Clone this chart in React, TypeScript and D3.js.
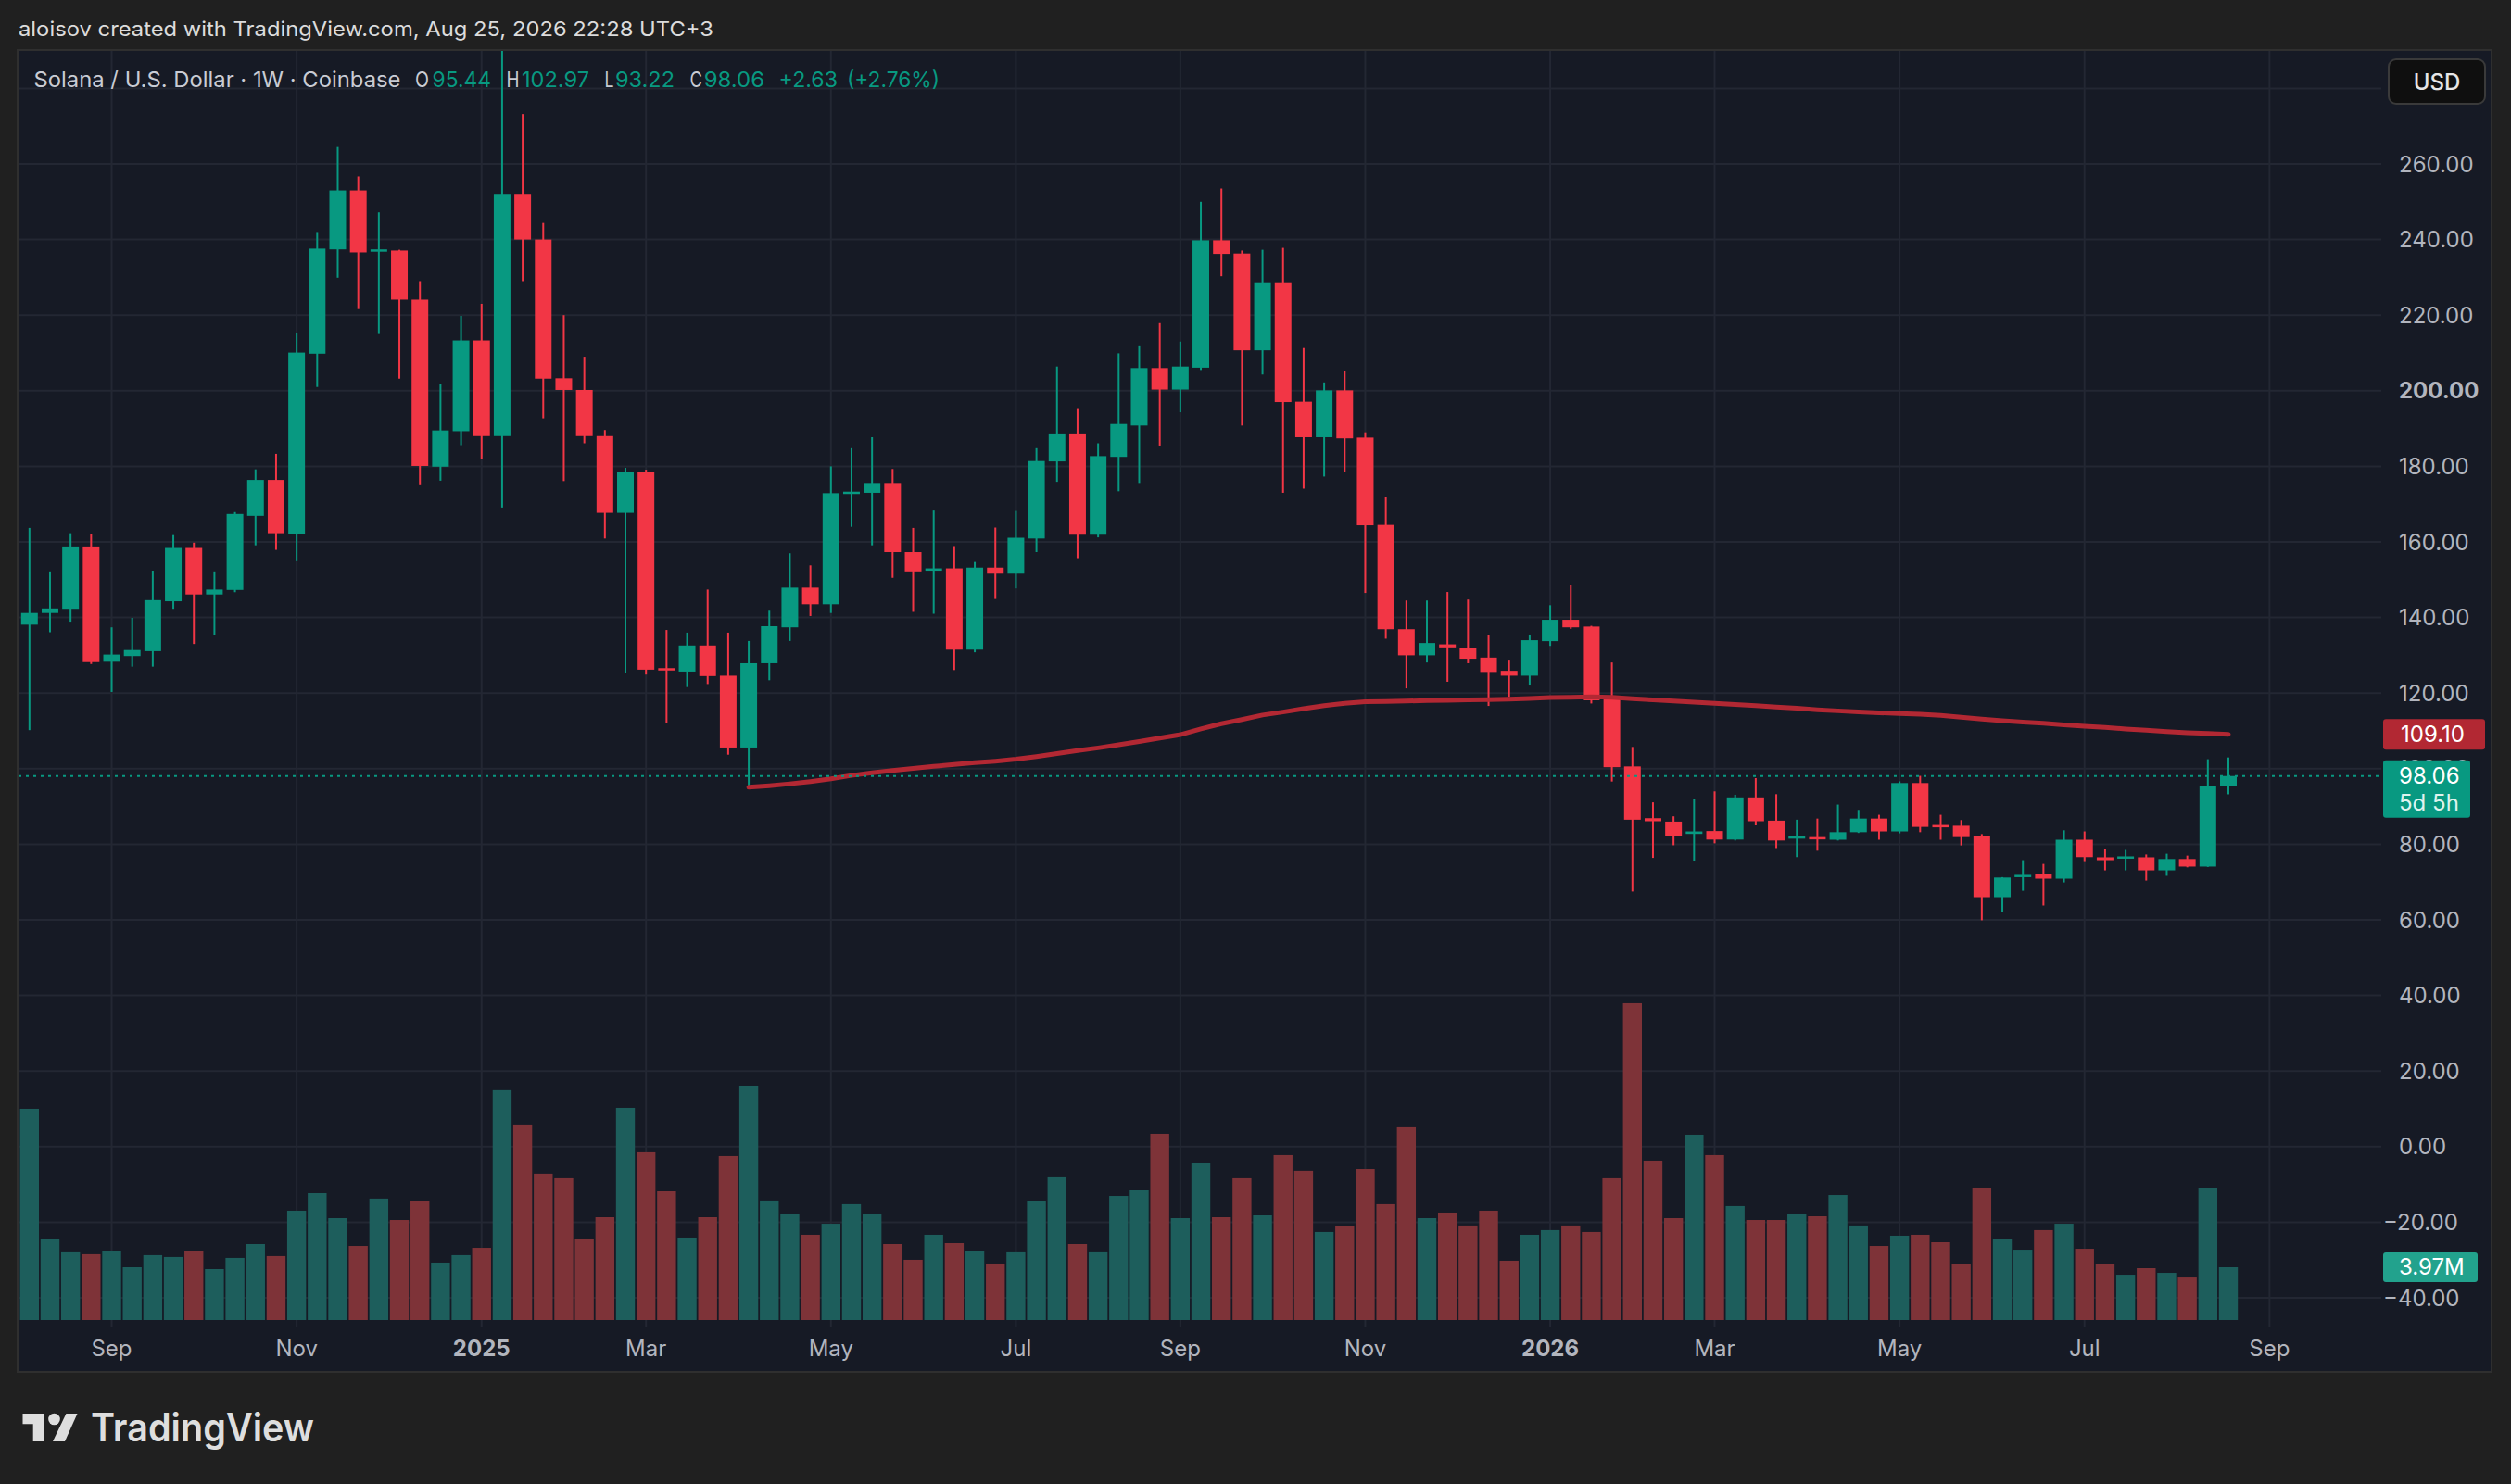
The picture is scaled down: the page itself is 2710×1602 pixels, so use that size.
import React from 'react';
import * as d3 from 'd3';

// ---------- DATA ----------
const firstWeek = new Date(Date.UTC(2024, 7, 5));
const weekCount = 108;
const weeks = d3.range(weekCount).map((i) => d3.utcDay.offset(firstWeek, 7 * i));

const opens = [
  138.1, 141.2, 142.3, 158.8, 128.3, 129.8, 131.1, 144.3, 158.4, 146.1,
  147.3, 166.9, 176.4, 162.0, 209.8, 237.4, 253.0, 236.8, 237.1, 224.1,
  179.9, 189.3, 213.3, 188.0, 252.1, 240.0, 203.3, 200.2, 188.0, 167.7,
  178.4, 126.6, 125.7, 132.6, 124.6, 105.6, 127.9, 137.4, 147.9, 143.5,
  173.0, 173.0, 175.6, 157.3, 152.8, 153.0, 131.5, 153.2, 151.6, 160.9,
  181.3, 188.7, 161.9, 182.5, 190.8, 206.0, 200.3, 206.1, 239.8, 236.3,
  210.7, 228.7, 197.1, 187.7, 200.1, 187.6, 164.5, 136.9, 130.0, 132.9,
  132.0, 129.4, 125.9, 124.6, 133.75, 139.4, 137.6, 118.5, 100.6, 86.9,
  86.0, 82.75, 83.5, 81.25, 92.4, 86.25, 81.6, 81.9, 81.2, 83.2,
  86.8, 83.4, 96.2, 85.1, 84.9, 82.2, 66.0, 71.4, 72.1, 70.9,
  81.2, 76.55, 76.5, 76.55, 73.1, 76.1, 74.1, 95.44,
];
const highs = [
  163.7, 152.2, 162.3, 162.0, 137.4, 139.9, 152.4, 161.8, 159.8, 152.2,
  167.9, 179.2, 183.3, 215.4, 242.0, 264.5, 256.7, 247.2, 237.3, 229.0,
  201.8, 219.8, 223.0, 295.0, 273.2, 244.4, 220.0, 209.0, 189.6, 179.6,
  179.1, 136.7, 136.0, 147.4, 136.0, 133.8, 141.8, 157.0, 153.8, 180.0,
  184.8, 187.7, 179.3, 163.7, 168.3, 158.9, 154.7, 163.8, 168.2, 184.8,
  206.4, 195.4, 186.1, 209.9, 212.0, 217.9, 213.0, 250.0, 253.5, 237.1,
  237.3, 237.8, 211.3, 202.2, 205.2, 189.0, 171.9, 144.5, 144.5, 146.75,
  144.75, 135.25, 128.6, 135.5, 143.25, 148.6, 137.8, 128.1, 105.75, 91.1,
  87.4, 92.1, 94.0, 93.1, 97.5, 93.25, 86.5, 86.8, 90.5, 89.1,
  87.8, 96.65, 98.1, 87.8, 86.4, 82.7, 71.3, 75.8, 74.8, 83.7,
  83.4, 78.8, 78.5, 77.3, 77.5, 77.0, 102.5, 102.97,
];
const lows = [
  110.2, 136.1, 138.9, 127.7, 120.3, 127.0, 127.0, 142.3, 133.0, 135.4,
  146.7, 159.1, 157.9, 154.9, 201.0, 229.9, 221.6, 215.0, 203.2, 175.0,
  176.2, 185.6, 181.9, 169.1, 229.0, 192.7, 176.1, 186.1, 160.9, 125.2,
  124.9, 112.1, 121.6, 122.4, 103.7, 95.0, 123.4, 133.8, 140.4, 141.2,
  164.0, 159.1, 150.5, 141.5, 141.0, 126.1, 130.8, 144.9, 147.7, 157.3,
  175.9, 155.7, 161.2, 173.4, 175.6, 185.5, 194.3, 205.5, 230.3, 190.8,
  204.3, 173.0, 174.1, 177.3, 178.6, 146.5, 134.4, 121.25, 128.1, 123.0,
  127.9, 116.6, 119.0, 122.0, 132.5, 137.0, 117.25, 96.6, 67.5, 76.4,
  79.75, 75.5, 80.25, 81.0, 85.0, 79.0, 76.6, 78.3, 81.0, 83.0,
  81.2, 82.9, 83.2, 81.2, 79.7, 59.9, 62.1, 67.7, 63.8, 69.9,
  75.3, 73.1, 73.1, 70.4, 71.65, 73.9, 74.0, 93.22,
];
const closes = [
  141.2, 142.4, 158.8, 128.2, 130.2, 131.4, 144.6, 158.4, 146.1, 147.4,
  167.4, 176.4, 162.3, 210.1, 237.6, 253.0, 236.6, 237.4, 224.1, 180.1,
  189.5, 213.3, 188.0, 252.1, 240.0, 203.2, 200.2, 188.0, 167.7, 178.4,
  126.2, 126.3, 132.6, 124.5, 105.6, 127.9, 137.7, 147.9, 143.5, 172.9,
  173.3, 175.6, 157.3, 152.2, 153.0, 131.5, 153.2, 151.6, 161.1, 181.4,
  188.7, 161.9, 182.7, 191.2, 206.0, 200.3, 206.4, 239.8, 236.2, 210.7,
  228.7, 197.0, 187.7, 200.1, 187.4, 164.4, 136.9, 130.0, 133.25, 132.1,
  129.1, 125.6, 124.6, 134.0, 139.4, 137.4, 118.1, 100.4, 86.5, 86.1,
  82.25, 83.4, 81.25, 92.4, 86.1, 81.0, 82.1, 81.6, 83.2, 86.8,
  83.4, 96.2, 84.6, 84.8, 81.9, 66.0, 71.2, 71.9, 70.9, 81.2,
  76.6, 75.8, 76.8, 73.1, 76.1, 74.1, 95.43, 98.06,
];
// weekly volume, millions
const volumes = [
  15.88, 6.13, 5.09, 4.95, 5.22, 3.97, 4.88, 4.74, 5.22, 3.83,
  4.67, 5.71, 4.81, 8.22, 9.54, 7.66, 5.57, 9.13, 7.52, 8.92,
  4.32, 4.88, 5.43, 17.28, 14.7, 11.01, 10.66, 6.13, 7.73, 15.95,
  12.61, 9.68, 6.2, 7.73, 12.33, 17.62, 8.99, 8.01, 6.41, 7.24,
  8.71, 8.01, 5.71, 4.53, 6.41, 5.78, 5.22, 4.25, 5.09, 8.92,
  10.73, 5.71, 5.09, 9.33, 9.75, 14.0, 7.66, 11.84, 7.73, 10.66,
  7.87, 12.4, 11.22, 6.62, 7.04, 11.35, 8.71, 14.49, 7.66, 8.08,
  7.11, 8.22, 4.46, 6.41, 6.76, 7.11, 6.62, 10.66, 23.82, 11.98,
  7.66, 13.93, 12.4, 8.57, 7.52, 7.52, 8.01, 7.8, 9.4, 7.11,
  5.57, 6.34, 6.41, 5.85, 4.18, 9.96, 6.06, 5.29, 6.76, 7.24,
  5.36, 4.18, 3.41, 3.9, 3.55, 3.2, 9.89, 3.97,
];
// red moving line, starting at week index 35
const maStartIndex = 35;
const maValues = [
  95.1, 95.5, 96.0, 96.6, 97.3, 98.2, 98.9, 99.5, 100.1, 100.6,
  101.1, 101.6, 102.0, 102.5, 103.2, 104.0, 104.8, 105.5, 106.3, 107.2,
  108.1, 109.0, 110.5, 111.9, 113.0, 114.2, 115.0, 115.9, 116.7, 117.3,
  117.7, 117.8, 117.9, 118.0, 118.1, 118.2, 118.3, 118.4, 118.6, 118.8,
  118.9, 119.0, 118.9, 118.5, 118.2, 117.9, 117.6, 117.3, 117.0, 116.7,
  116.3, 116.0, 115.6, 115.3, 115.0, 114.8, 114.6, 114.4, 114.1, 113.6,
  113.1, 112.7, 112.3, 112.0, 111.6, 111.2, 110.9, 110.5, 110.2, 109.8,
  109.5, 109.3, 109.1,
];

const priceTicks = [280, 260, 240, 220, 200, 180, 160, 140, 120, 100, 80, 60, 40, 20, 0, -20, -40];
const priceTickLabels = ['', '260.00', '240.00', '220.00', '200.00', '180.00', '160.00', '140.00', '120.00', '100.00', '80.00', '60.00', '40.00', '20.00', '0.00', '\u221220.00', '\u221240.00'];
const timeTickLabels = ['Sep', 'Nov', '2025', 'Mar', 'May', 'Jul', 'Sep', 'Nov', '2026', 'Mar', 'May', 'Jul', 'Sep'];
const timeTickDates = ['2024-09-02', '2024-11-04', '2025-01-06', '2025-03-03', '2025-05-05', '2025-07-07', '2025-09-01', '2025-11-03', '2026-01-05', '2026-03-02', '2026-05-04', '2026-07-06', '2026-09-07'];

const headerText = 'aloisov created with TradingView.com, Aug 25, 2026 22:28 UTC+3';
const symbolText = 'Solana / U.S. Dollar \u00b7 1W \u00b7 Coinbase';
const lastPrice = 98.06;
const maLast = 109.1;
const lastVolumeLabel = '3.97M';
const countdownLabel = '5d 5h';

// ---------- LAYOUT ----------
const W = 2710;
const H = 1602;
const plot = { left: 20, right: 2570, top: 55, bottom: 1432 };
const GREEN = '#089981';
const RED = '#F23645';
const VOL_GREEN = '#1d5e5c';
const VOL_RED = '#7e3338';
const GRID = '#232733';
const AXIS_TEXT = '#b2b5be';
const LEGEND_TEXT = '#c9ccd4';
const FONT = 'Inter, Roboto, "DejaVu Sans", sans-serif';

const x = d3.scaleUtc().domain([weeks[0], weeks[weekCount - 1]]).range([31.8, 2405]);
const y = d3.scaleLinear().domain([-40, 260]).range([1401.0, 177.0]);
const yVol = d3.scaleLinear().domain([0, 25]).range([1425, 1425 - 25 * 14.36]);

const fmt = d3.format('.2f');

export default function App() {
  const bodyW = 18;
  const volW = 20.4;

  const maLine = d3
    .line<number>()
    .x((_, i) => x(weeks[maStartIndex + i]))
    .y((v) => y(v));

  const legendY = 94;
  const last = weekCount - 1;
  const change = closes[last] - closes[last - 1];
  const changePct = (change / closes[last - 1]) * 100;

  const legendParts = [
    { t: 'O', x: 448, w: 15, c: LEGEND_TEXT },
    { t: fmt(opens[last]), x: 466.5, w: 63.5, c: GREEN },
    { t: 'H', x: 546.4, w: 14, c: LEGEND_TEXT },
    { t: fmt(highs[last]), x: 563, w: 73, c: GREEN },
    { t: 'L', x: 652.6, w: 10, c: LEGEND_TEXT },
    { t: fmt(lows[last]), x: 664, w: 64, c: GREEN },
    { t: 'C', x: 744.4, w: 13.5, c: LEGEND_TEXT },
    { t: fmt(closes[last]), x: 759.7, w: 65.3, c: GREEN },
    { t: '+' + fmt(change), x: 840.6, w: 63.4, c: GREEN },
    { t: '(+' + fmt(changePct) + '%)', x: 914, w: 100, c: GREEN },
  ];

  return (
    <div style={{ position: 'absolute', left: 0, top: 0, width: W, height: H }}>
      <svg width={W} height={H} viewBox={`0 0 ${W} ${H}`} style={{ display: 'block' }}>
        <defs>
          <clipPath id="plotClip">
            <rect x={plot.left} y={plot.top} width={plot.right - plot.left} height={plot.bottom - plot.top} />
          </clipPath>
        </defs>
        <rect x={0} y={0} width={W} height={H} fill="#202020" />
        <text x={20} y={39} fill="#dcdcdc" fontFamily={FONT} fontSize={22} textLength={750} lengthAdjust="spacingAndGlyphs">
          {headerText}
        </text>

        {/* chart panel */}
        <rect x={19} y={54} width={2670} height={1427} fill="#161a25" stroke="#2f2f2f" strokeWidth={2} />

        {/* grid */}
        <g>
          {priceTicks.map((t) => (
            <line key={'h' + t} x1={plot.left} x2={plot.right} y1={y(t)} y2={y(t)} stroke={GRID} strokeWidth={2} />
          ))}
          {timeTickDates.map((d) => {
            const xx = x(new Date(d + 'T00:00:00Z'));
            return <line key={'v' + d} x1={xx} x2={xx} y1={plot.top} y2={plot.bottom} stroke={GRID} strokeWidth={2} />;
          })}
        </g>

        <g clipPath="url(#plotClip)">
          {/* volume */}
          {volumes.map((v, i) => {
            const up = closes[i] >= opens[i];
            const top = yVol(v);
            return (
              <rect key={'v' + i} x={x(weeks[i]) - volW / 2} y={top} width={volW} height={yVol(0) - top} fill={up ? VOL_GREEN : VOL_RED} />
            );
          })}

          {/* candles */}
          {weeks.map((w, i) => {
            const o = opens[i];
            const c = closes[i];
            const up = c >= o;
            const col = up ? GREEN : RED;
            const cx = x(w);
            const yTop = y(Math.max(o, c));
            const yBot = y(Math.min(o, c));
            const bh = Math.max(2.5, yBot - yTop);
            return (
              <g key={'c' + i}>
                <rect x={cx - 1} y={y(highs[i])} width={2} height={y(lows[i]) - y(highs[i])} fill={col} />
                <rect x={cx - bodyW / 2} y={yTop} width={bodyW} height={bh} fill={col} />
              </g>
            );
          })}

          {/* red line */}
          <path d={maLine(maValues) || ''} fill="none" stroke="#b22833" strokeWidth={5} strokeLinecap="round" strokeLinejoin="round" />

          {/* last price dotted line */}
          <line x1={plot.left} x2={plot.right} y1={y(lastPrice)} y2={y(lastPrice)} stroke={GREEN} strokeWidth={2} strokeDasharray="3 5" />
        </g>

        {/* legend */}
        <g fontFamily={FONT} fontSize={23}>
          <text x={36.5} y={legendY} fill={LEGEND_TEXT} textLength={396} lengthAdjust="spacingAndGlyphs">{symbolText}</text>
          {legendParts.map((p, i) => (
            <text key={'lg' + i} x={p.x} y={legendY} fill={p.c} textLength={p.w} lengthAdjust="spacingAndGlyphs">{p.t}</text>
          ))}
        </g>

        {/* price axis labels */}
        <g fontFamily={FONT} fontSize={24} fill={AXIS_TEXT}>
          {priceTicks.map((t, i) =>
            priceTickLabels[i] ? (
              <text
                key={'pl' + t}
                x={t < 0 ? 2572 : 2589}
                y={y(t)}
                dominantBaseline="central"
                fontWeight={t === 200 ? 700 : 400}
              >
                {priceTickLabels[i]}
              </text>
            ) : null
          )}
        </g>

        {/* time axis labels */}
        <g fontFamily={FONT} fontSize={24} fill={AXIS_TEXT} textAnchor="middle">
          {timeTickLabels.map((lab, i) => (
            <text key={'tl' + i} x={x(new Date(timeTickDates[i] + 'T00:00:00Z'))} y={1464} fontWeight={/^\d+$/.test(lab) ? 700 : 400}>
              {lab}
            </text>
          ))}
        </g>

        {/* USD box */}
        <rect x={2578} y={64} width={104} height={48} rx={8} fill="#0f0f0f" stroke="#3a3a3a" strokeWidth={2} />
        <text x={2630} y={88} fill="#e6e6e6" fontFamily={FONT} fontSize={24} fontWeight={500} textAnchor="middle" dominantBaseline="central">USD</text>

        {/* moving line label */}
        <rect x={2572} y={y(maLast) - 16.5} width={110} height={33} rx={3} fill="#b22833" />
        <text x={2591} y={y(maLast)} fill="#ffffff" fontFamily={FONT} fontSize={24} dominantBaseline="central">{fmt(maLast)}</text>

        {/* last price label */}
        <rect x={2572} y={y(lastPrice) - 17} width={94} height={62} rx={3} fill={GREEN} />
        <text x={2589} y={y(lastPrice)} fill="#ffffff" fontFamily={FONT} fontSize={24} dominantBaseline="central">{fmt(lastPrice)}</text>
        <text x={2589} y={y(lastPrice) + 29} fill="#dff3ee" fontFamily={FONT} fontSize={24} dominantBaseline="central">{countdownLabel}</text>

        {/* volume label */}
        <rect x={2572} y={yVol(volumes[last]) - 16} width={102} height={32} rx={3} fill="#22a28d" />
        <text x={2589} y={yVol(volumes[last])} fill="#ffffff" fontFamily={FONT} fontSize={24} dominantBaseline="central">{lastVolumeLabel}</text>

        {/* TradingView logo */}
        <g fill="#dedede">
          <path d="M24.5 1526 H47.8 V1556 H35.7 V1537.3 H24.5 Z" />
          <circle cx={58.5} cy={1532} r={6.3} />
          <path d="M71.4 1526 H83.5 L70 1556 H57 Z" />
          <text x={98} y={1556} fontFamily={FONT} fontSize={42} fontWeight={600} textLength={241} lengthAdjust="spacingAndGlyphs">TradingView</text>
        </g>
      </svg>
    </div>
  );
}
